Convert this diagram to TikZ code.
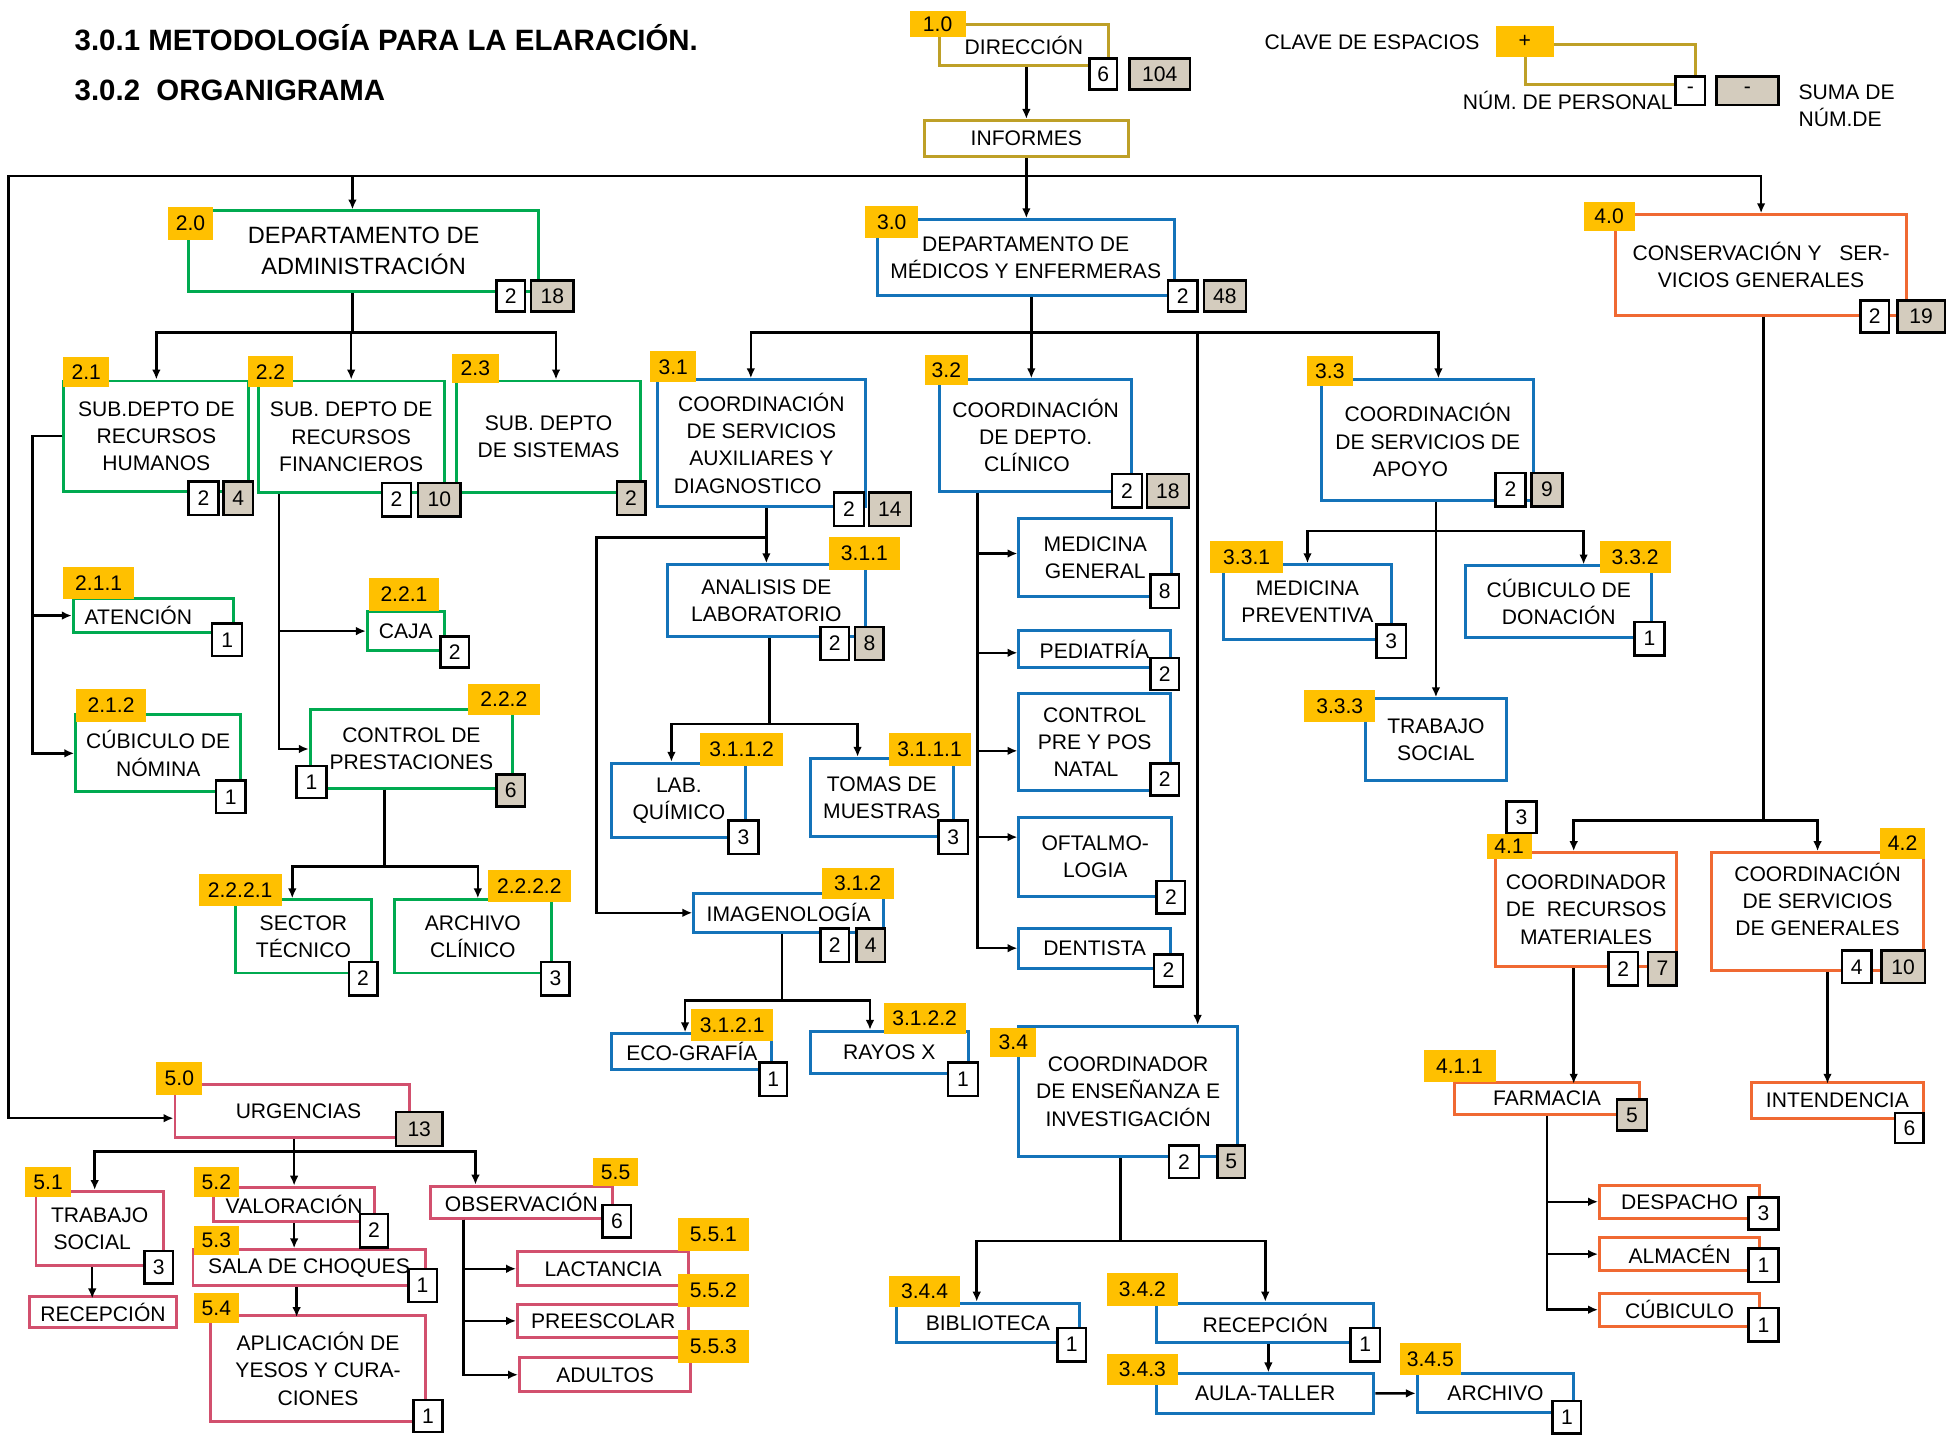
\documentclass[tikz,border=0pt]{standalone}
\usepackage{fontspec}
\setmainfont{Liberation Sans}
\usetikzlibrary{arrows.meta}
\definecolor{oro}{RGB}{190,160,40}
\definecolor{verde}{RGB}{0,170,80}
\definecolor{azul}{RGB}{20,115,185}
\definecolor{naranja}{RGB}{240,105,50}
\definecolor{rosa}{RGB}{210,80,110}
\definecolor{amarillo}{RGB}{255,192,0}
\definecolor{gris}{RGB}{212,204,190}
\newcommand{\fcaja}{\fontsize{17}{22}\selectfont}

\begin{document}
\begin{tikzpicture}[x=1pt, y=-1pt,
  ubox/.style={draw=#1, line width=2.4pt, fill=white, inner sep=2pt, align=center, font=\fcaja},
  sz/.style 2 args={minimum width=#1pt, minimum height=#2pt},
  clave/.style={fill=amarillo, inner sep=0pt, font=\fcaja},
  pers/.style={draw=black, line width=2pt, fill=white, inner sep=0pt, minimum width=24pt, minimum height=26pt, font=\fcaja},
  suma/.style={pers, fill=gris},
  lin/.style={line width=2pt},
  arr/.style={lin, -{Latex[length=8pt, width=7pt]}}]
  \useasboundingbox (0,0) rectangle (1568,1155.5);

  \node[anchor=west, inner sep=0pt, font=\fontsize{23.7}{28}\selectfont\bfseries] (tit1) at (60,30) {3.0.1 METODOLOGÍA PARA LA ELARACIÓN.};
  \node[anchor=west, inner sep=0pt, font=\fontsize{23.7}{28}\selectfont\bfseries] (tit2) at (60,73) {3.0.2\ \ ORGANIGRAMA};

  \node[ubox=oro, sz={136}{33}] (dir) at (825,36.5) {DIRECCIÓN};
  \node[ubox=oro, sz={164}{29}] (inf) at (827,111.5) {INFORMES};
  \node[ubox=oro, sz={137}{32}] (ley) at (1297.5,52) {};
  \node[font=\fcaja, inner sep=0pt] (ley0) at (1105.5,34) {CLAVE DE ESPACIOS};
  \node[font=\fcaja, anchor=east, inner sep=0pt] (ley1) at (1348,81) {NÚM. DE PERSONAL};
  \node[font=\fcaja, anchor=west, align=left, inner sep=0pt] (ley2) at (1449,85) {SUMA DE\\NÚM.DE};

  \node[ubox=verde, sz={282}{65}, font=\fontsize{19}{25}\selectfont] (d20) at (293,202.5) {DEPARTAMENTO DE\\ADMINISTRACIÓN};
  \node[ubox=verde, sz={149}{89}] (d21) at (126,351.5) {SUB.DEPTO DE\\RECURSOS\\HUMANOS};
  \node[ubox=verde, sz={150}{90}] (d22) at (283,352) {SUB. DEPTO DE\\RECURSOS\\FINANCIEROS};
  \node[ubox=verde, sz={148}{90}] (d23) at (442,352) {SUB. DEPTO\\DE SISTEMAS};
  \node[ubox=verde, sz={129}{28}] (d211) at (123.5,496) {ATENCIÓN\hspace*{24pt}};
  \node[ubox=verde, sz={133}{62}] (d212) at (127.5,607) {CÚBICULO DE\\NÓMINA};
  \node[ubox=verde, sz={62}{31}] (d221) at (327,508.5) {CAJA};
  \node[ubox=verde, sz={163}{63}] (d222) at (331.5,603.5) {CONTROL DE\\PRESTACIONES};
  \node[ubox=verde, sz={109}{59}] (d2221) at (244.5,754.5) {SECTOR\\TÉCNICO};
  \node[ubox=verde, sz={126}{59}] (d2222) at (381,754.5) {ARCHIVO\\CLÍNICO};

  \node[ubox=azul, sz={239}{61}] (d30) at (826.5,207.5) {DEPARTAMENTO DE\\MÉDICOS Y ENFERMERAS};
  \node[ubox=azul, sz={167}{102}] (d31) at (613.5,357) {COORDINACIÓN\\DE SERVICIOS\\AUXILIARES Y\\DIAGNOSTICO\hspace*{22pt}};
  \node[ubox=azul, sz={159}{58}] (d311) at (617.5,484) {ANALISIS DE\\LABORATORIO};
  \node[ubox=azul, sz={108}{60}] (d3112) at (547,645) {LAB.\\QUÍMICO};
  \node[ubox=azul, sz={115}{63}] (d3111) at (710.5,642.5) {TOMAS DE\\MUESTRAS};
  \node[ubox=azul, sz={153}{31}] (d312) at (635.5,735.5) {IMAGENOLOGÍA};
  \node[ubox=azul, sz={129}{29}] (d3121) at (557.5,847.5) {ECO-GRAFÍA};
  \node[ubox=azul, sz={127}{34}] (d3122) at (716.5,848) {RAYOS X};
  \node[ubox=azul, sz={155}{90}] (d32) at (834.5,351) {COORDINACIÓN\\DE DEPTO.\\CLÍNICO\hspace*{14pt}};
  \node[ubox=azul, sz={123}{63}] (d321) at (882.5,449.5) {MEDICINA\\GENERAL};
  \node[ubox=azul, sz={122}{30}] (d322) at (882,523) {PEDIATRÍA};
  \node[ubox=azul, sz={122}{78}] (d323) at (882,598) {CONTROL\\PRE Y POS\\NATAL\hspace*{14pt}};
  \node[ubox=azul, sz={123}{63}] (d324) at (882.5,690.5) {OFTALMO-\\LOGIA};
  \node[ubox=azul, sz={122}{32}] (d325) at (882,764) {DENTISTA};
  \node[ubox=azul, sz={171}{97}] (d33) at (1150.5,354.5) {COORDINACIÓN\\DE SERVICIOS DE\\APOYO\hspace*{28pt}};
  \node[ubox=azul, sz={135}{60}] (d331) at (1053.5,485) {MEDICINA\\PREVENTIVA};
  \node[ubox=azul, sz={150}{58}] (d332) at (1256,485) {CÚBICULO DE\\DONACIÓN};
  \node[ubox=azul, sz={114}{66}] (d333) at (1157,596) {TRABAJO\\SOCIAL};
  \node[ubox=azul, sz={176}{105}] (d34) at (909,879.5) {COORDINADOR\\DE ENSEÑANZA E\\INVESTIGACIÓN};
  \node[ubox=azul, sz={148}{32}] (d344) at (796,1066) {BIBLIOTECA};
  \node[ubox=azul, sz={175}{32}] (d342) at (1019.5,1066) {RECEPCIÓN};
  \node[ubox=azul, sz={175}{32}] (d343) at (1019.5,1123) {AULA-TALLER};
  \node[ubox=azul, sz={126}{31}] (d345) at (1205,1122.5) {ARCHIVO};

  \node[ubox=naranja, sz={234}{81}] (d40) at (1419,213.5) {CONSERVACIÓN Y\ \ \ SER-\\VICIOS GENERALES};
  \node[ubox=naranja, sz={146}{92}] (d41) at (1278,733) {COORDINADOR\\DE\ \ RECURSOS\\MATERIALES};
  \node[ubox=naranja, sz={171}{95}, text depth=20pt] (d42) at (1464.5,734.5) {COORDINACIÓN\\DE SERVICIOS\\DE GENERALES};
  \node[ubox=naranja, sz={149}{26}] (d411) at (1246.5,885) {FARMACIA};
  \node[ubox=naranja, sz={139}{29}] (d421) at (1480.5,886.5) {INTENDENCIA};
  \node[ubox=naranja, sz={129}{26.5}] (d4111) at (1353.3,968.3) {DESPACHO};
  \node[ubox=naranja, sz={129}{27}] (d4112) at (1353.3,1010.5) {ALMACÉN};
  \node[ubox=naranja, sz={129}{26.5}] (d4113) at (1353.3,1055.3) {CÚBICULO};

  \node[ubox=rosa, sz={189}{43}] (urg) at (235.5,895) {\hspace*{10pt}URGENCIAS};
  \node[ubox=rosa, sz={102.6}{60}] (d51) at (80.3,990) {TRABAJO\\SOCIAL\hspace*{12pt}};
  \node[ubox=rosa, sz={119}{25}] (d511) at (83,1057.5) {RECEPCIÓN};
  \node[ubox=rosa, sz={130}{28}] (d52) at (237,970.5) {VALORACIÓN};
  \node[ubox=rosa, sz={187}{29}] (d53) at (249,1021.5) {SALA DE CHOQUES};
  \node[ubox=rosa, sz={172.6}{85.6}] (d54) at (256.3,1102.8) {APLICACIÓN DE\\YESOS Y CURA-\\CIONES};
  \node[ubox=rosa, sz={146.6}{25.8}] (d55) at (420.1,968.6) {OBSERVACIÓN};
  \node[ubox=rosa, sz={138}{27.4}] (d551) at (486,1022.3) {LACTANCIA};
  \node[ubox=rosa, sz={138}{26.5}] (d552) at (486,1064.3) {PREESCOLAR};
  \node[ubox=rosa, sz={138}{27.4}] (d553) at (487.6,1107.7) {ADULTOS};

  \coordinate (bus) at (830,142);
  \coordinate (izq) at (7,901);
  \coordinate (j20) at (284,268);
  \coordinate (j222) at (310,698);
  \coordinate (j30) at (831,268);
  \coordinate (j31) at (618,433);
  \coordinate (j311) at (620,583.5);
  \coordinate (j312) at (630,806);
  \coordinate (j33) at (1157,428);
  \coordinate (j34) at (903,1000);
  \coordinate (j40) at (1421,661);
  \coordinate (j50) at (237,928);

  \draw[arr] (dir.south -| inf.north) -- (inf.north);
  \draw[arr] (inf.south) -- (inf.south |- d30.north);
  \draw[arr] (bus) -| ([xshift=-9pt]d20.north);
  \draw[arr] (bus) -| (d40);
  \draw[arr] (bus) -| (izq) -- (izq -| urg.west);

  \draw[lin] (d20.south -| j20) -- (j20);
  \draw[arr] (j20) -| (d21);
  \draw[arr] (j20) -| (d22);
  \draw[arr] (j20) -| ([xshift=6pt]d23.north);
  \draw[arr] (d21.west) -- ++(-24,0) |- (d211.west);
  \draw[arr] (d21.west) -- ++(-24,0) |- (d212.west);
  \draw[arr] ([xshift=18pt]d22.south west) |- (d221.west);
  \draw[arr] ([xshift=18pt]d22.south west) |- (d222.west);
  \draw[lin] (d222.south -| j222) -- (j222);
  \draw[arr] (j222) -| ([xshift=-9pt]d2221.north);
  \draw[arr] (j222) -| ([xshift=4pt]d2222.north);

  \draw[lin] (d30.south -| j30) -- (j30);
  \draw[arr] (j30) -| ([xshift=-8.5pt]d31.north);
  \draw[arr] (j30) -| ([xshift=-3.5pt]d32.north);
  \draw[arr] (j30) -| ([xshift=8.5pt]d33.north);
  \draw[arr] (j30) -| ([xshift=56pt]d34.north);
  \draw[arr] (d311.north |- d31.south) -- (d311.north);
  \draw[arr] (j31) -- ++(-137.5,0) |- (d312.west);
  \draw[lin] (d311.south -| j311) -- (j311);
  \draw[arr] (j311) -| ([xshift=-6pt]d3112.north);
  \draw[arr] (j311) -| ([xshift=-19.5pt]d3111.north);
  \draw[lin] (d312.south -| j312) -- (j312);
  \draw[arr] (j312) -| ([xshift=-5.5pt]d3121.north);
  \draw[arr] (j312) -| ([xshift=-15.5pt]d3122.north);
  \draw[arr] ([xshift=32pt]d32.south west) |- ([yshift=3.5pt]d321.west);
  \draw[arr] ([xshift=32pt]d32.south west) |- ([yshift=-3pt]d322.west);
  \draw[arr] ([xshift=32pt]d32.south west) |- ([yshift=-7pt]d323.west);
  \draw[arr] ([xshift=32pt]d32.south west) |- ([yshift=16pt]d324.west);
  \draw[arr] ([xshift=32pt]d32.south west) |- (d325.west);
  \draw[arr] (d333.north |- d33.south) -- (d333.north);
  \draw[arr] (j33) -| (d331);
  \draw[arr] (j33) -| ([xshift=20pt]d332.north);
  \draw[lin] (d34.south -| j34) -- (j34);
  \draw[arr] (j34) -| ([xshift=-9pt]d344.north);
  \draw[arr] (j34) -| (d342);
  \draw[arr] ([xshift=2.5pt]d342.south) -- ([xshift=2.5pt]d343.north);
  \draw[arr] (d343) -- (d345);

  \draw[lin] (d40.south -| j40) -- (j40);
  \draw[arr] (j40) -| ([xshift=-10pt]d41.north);
  \draw[arr] (j40) -| (d42);
  \draw[arr] ([xshift=-10pt]d41.south) -- ++(0,93);
  \draw[arr] ([xshift=8pt]d42.south) -- ++(0,90);
  \draw[arr] (d411.south) |- (d4111.west);
  \draw[arr] (d411.south) |- (d4112.west);
  \draw[arr] (d411.south) |- (d4113.west);

  \draw[lin] (urg.south -| j50) -- (j50);
  \draw[arr] (j50) -| ([xshift=-4pt]d51.north);
  \draw[arr] (j50) -| (d52);
  \draw[arr] (j50) -| ([xshift=-37pt]d55.north);
  \draw[arr] ([xshift=-6pt]d51.south) -- ++(0,25);
  \draw[arr] (d52.south) -- (d52.south |- d53.north);
  \draw[arr] ([xshift=-10pt]d53.south) -- ++(0,24);
  \draw[arr] ([xshift=28pt]d55.south west) |- (d551.west);
  \draw[arr] ([xshift=28pt]d55.south west) |- (d552.west);
  \draw[arr] ([xshift=28pt]d55.south west) |- (d553.west);

  \node[clave, sz={47}{25}] (lmas) at (1228.5,33.5) {+};
  \node[pers, sz={24}{23}] (lper) at (1362,73) {-};
  \node[suma, sz={50}{23}] (lsum) at (1408,73) {-};
  \node[clave, sz={45}{21}] (c10) at (755.5,19.5) {1.0};
  \node[pers, sz={22}{25}] (n10) at (889,59.5) {6};
  \node[suma, sz={49}{25}] (s10) at (934.5,59.5) {104};

  \node[clave, sz={37}{26}] (c20) at (153.5,180) {2.0};
  \node[clave, sz={37}{24}] (c21) at (69.5,300) {2.1};
  \node[clave, sz={36}{25}] (c22) at (218,299.5) {2.2};
  \node[clave, sz={38}{24}] (c23) at (383,297) {2.3};
  \node[clave, sz={57}{26}] (c211) at (79.5,470) {2.1.1};
  \node[clave, sz={57}{27}] (c212) at (89.5,568.5) {2.1.2};
  \node[clave, sz={57}{26}] (c221) at (325.5,479) {2.2.1};
  \node[clave, sz={58}{25}] (c222) at (406,563.5) {2.2.2};
  \node[clave, sz={67}{26}] (c2221) at (193.5,717) {2.2.2.1};
  \node[clave, sz={67}{26}] (c2222) at (426.5,714) {2.2.2.2};
  \node[pers, sz={23}{25}] (n20) at (411.5,238.5) {2};
  \node[suma, sz={34}{25}] (s20) at (445,238.5) {18};
  \node[pers, sz={24}{27}] (n21) at (164,401.5) {2};
  \node[suma, sz={24}{27}] (s21) at (192,401.5) {4};
  \node[pers, sz={23}{27}] (n22) at (319.5,402.5) {2};
  \node[suma, sz={34}{27}] (s22) at (354,402.5) {10};
  \node[suma, sz={23}{27}] (s23) at (508.5,401.5) {2};
  \node[pers] (n211) at (183,515.5) {1};
  \node[pers] (n212) at (186,642) {1};
  \node[pers, sz={23}{25}] (n221) at (366.5,525.5) {2};
  \node[pers] (n222) at (251,630) {1};
  \node[suma, sz={23}{26}] (s222) at (411.5,637) {6};
  \node[pers, sz={23}{27}] (n2221) at (292.5,788.5) {2};
  \node[pers, sz={23}{27}] (n2222) at (447.5,788.5) {3};

  \node[clave, sz={43}{26}] (c30) at (718.5,179) {3.0};
  \node[clave, sz={37}{25}] (c31) at (542.5,295.5) {3.1};
  \node[clave, sz={57}{26}] (c311) at (696.5,446) {3.1.1};
  \node[clave, sz={67}{26}] (c3112) at (597.5,604) {3.1.1.2};
  \node[clave, sz={66}{26}] (c3111) at (749,604) {3.1.1.1};
  \node[clave, sz={58}{25}] (c312) at (691,711.5) {3.1.2};
  \node[clave, sz={66}{26}] (c3121) at (590,826) {3.1.2.1};
  \node[clave, sz={66}{25}] (c3122) at (745,820.5) {3.1.2.2};
  \node[clave, sz={35}{24}] (c32) at (762.5,298) {3.2};
  \node[clave, sz={37}{24}] (c33) at (1071.5,299) {3.3};
  \node[clave, sz={59}{26}] (c331) at (1004.5,449) {3.3.1};
  \node[clave, sz={57}{26}] (c332) at (1317.5,449) {3.3.2};
  \node[clave, sz={57}{26}] (c333) at (1079.5,569) {3.3.3};
  \node[clave, sz={37}{24}] (c34) at (816.5,840) {3.4};
  \node[clave, sz={57}{25}] (c344) at (745,1040.5) {3.4.4};
  \node[clave, sz={57}{26}] (c342) at (920.5,1039) {3.4.2};
  \node[clave, sz={57}{25}] (c343) at (920.5,1103.5) {3.4.3};
  \node[clave, sz={49}{26}] (c345) at (1152.5,1095) {3.4.5};
  \node[pers, sz={24}{25}] (n30) at (953,238.5) {2};
  \node[suma, sz={34}{25}] (s30) at (987,238.5) {48};
  \node[pers, sz={24}{27}] (n31) at (684,410.5) {2};
  \node[suma, sz={34}{27}] (s31) at (717,410.5) {14};
  \node[pers, sz={23}{27}] (n311) at (672.5,518.5) {2};
  \node[suma, sz={23}{27}] (s311) at (700.5,518.5) {8};
  \node[pers, sz={24}{27}] (n3112) at (599,674.5) {3};
  \node[pers, sz={24}{27}] (n3111) at (768,674.5) {3};
  \node[pers, sz={23}{27}] (n312) at (672.5,761.5) {2};
  \node[suma, sz={23}{27}] (s312) at (701.5,761.5) {4};
  \node[pers, sz={22}{27}] (n3121) at (623,869.5) {1};
  \node[pers, sz={24}{27}] (n3122) at (776,869.5) {1};
  \node[pers, sz={24}{27}] (n32) at (908,395.5) {2};
  \node[suma, sz={34}{27}] (s32) at (941,395.5) {18};
  \node[pers, sz={23}{27}] (n321) at (938.5,476.5) {8};
  \node[pers, sz={23}{26}] (n322) at (938.5,543) {2};
  \node[pers, sz={23}{26}] (n323) at (938.5,628) {2};
  \node[pers, sz={23}{26}] (n324) at (943.5,723) {2};
  \node[pers, sz={23}{26}] (n325) at (941.5,782) {2};
  \node[pers, sz={24}{27}] (n33) at (1217,394.5) {2};
  \node[suma, sz={25}{27}] (s33) at (1246.5,394.5) {9};
  \node[pers, sz={24}{27}] (n331) at (1121,516.5) {3};
  \node[pers, sz={24}{27}] (n332) at (1329,514.5) {1};
  \node[pers, sz={24}{26}] (n34) at (954,936) {2};
  \node[suma, sz={22}{26}] (s34) at (992,936) {5};
  \node[pers, sz={23}{27}] (n344) at (863.5,1083.5) {1};
  \node[pers, sz={24}{27}] (n342) at (1100,1083.5) {1};
  \node[pers, sz={23}{26}] (n345) at (1262.5,1142) {1};

  \node[clave, sz={41}{23}] (c40) at (1296.5,174.5) {4.0};
  \node[clave, sz={36}{20}] (c41) at (1216,682) {4.1};
  \node[clave, sz={36}{25}] (c42) at (1533,679.5) {4.2};
  \node[clave, sz={58}{26}] (c411) at (1176,859) {4.1.1};
  \node[pers, sz={23}{26}] (n40) at (1510.5,255) {2};
  \node[suma, sz={38}{26}] (s40) at (1548,255) {19};
  \node[pers, sz={24}{25}] (m41) at (1226,658.5) {3};
  \node[pers, sz={24}{27}] (n41) at (1308,780.5) {2};
  \node[suma, sz={23}{27}] (s41) at (1339.5,780.5) {7};
  \node[pers, sz={24}{26}] (n42) at (1496,779) {4};
  \node[suma, sz={35}{26}] (s42) at (1533.5,779) {10};
  \node[suma, sz={24}{25}] (s411) at (1315,898.5) {5};
  \node[pers, sz={23}{24}] (n421) at (1538.5,909) {6};
  \node[pers] (n4111) at (1421,977.8) {3};
  \node[pers, sz={24}{27}] (n4112) at (1421,1019.5) {1};
  \node[pers, sz={24}{27}] (n4113) at (1421,1067.5) {1};

  \node[clave, sz={37}{26}] (c50) at (144.5,869) {5.0};
  \node[clave, sz={37.5}{24}] (c51) at (38.8,952.5) {5.1};
  \node[clave, sz={36.6}{24.5}] (c52) at (174.3,952.3) {5.2};
  \node[clave, sz={36.6}{23}] (c53) at (174.3,999.5) {5.3};
  \node[clave, sz={36.6}{24}] (c54) at (174.3,1054) {5.4};
  \node[clave, sz={36}{23}] (c55) at (496,944.5) {5.5};
  \node[clave, sz={57.5}{26.4}] (c551) at (574.8,994.8) {5.5.1};
  \node[clave, sz={57.5}{26.4}] (c552) at (574.8,1039.8) {5.5.2};
  \node[clave, sz={57.5}{26}] (c553) at (574.8,1085) {5.5.3};
  \node[suma, sz={37.6}{27.5}] (s50) at (337.8,909.8) {13};
  \node[pers, sz={23}{26}] (n51) at (128,1021) {3};
  \node[pers, sz={22.6}{27}] (n52) at (301.3,991.5) {2};
  \node[pers, sz={23}{26.4}] (n53) at (340.5,1035.8) {1};
  \node[pers, sz={23.6}{26}] (n54) at (344.8,1141) {1};
  \node[pers, sz={23}{26}] (n55) at (497.1,984) {6};
\end{tikzpicture}
\end{document}
